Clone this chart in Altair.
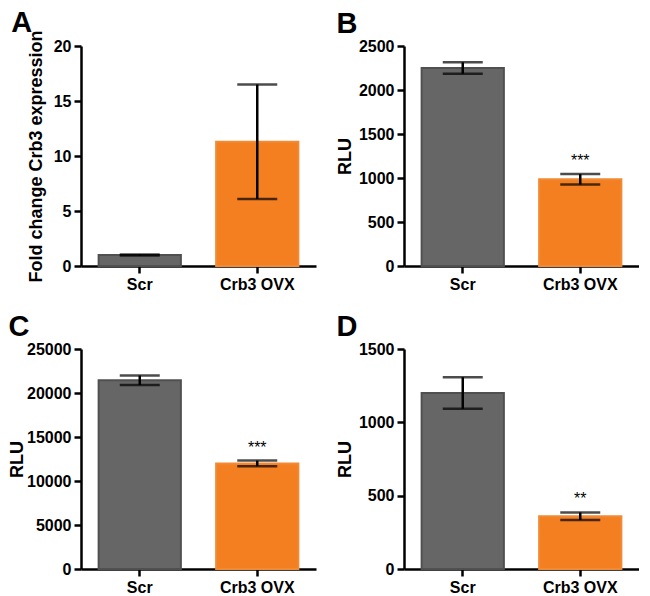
import altair as alt
import pandas as pd

categories = ["Scr", "Crb3 OVX"]

a_mean = [1.0, 11.3]
a_err = [0.05, 5.2]
b_mean = [2250, 985]
b_err = [65, 60]
c_mean = [21450, 12000]
c_err = [540, 320]
d_mean = [1200, 360]
d_err = [108, 26]

a_stars = ["", ""]
b_stars = ["", "***"]
c_stars = ["", "***"]
d_stars = ["", "**"]

a_ticks = [0, 5, 10, 15, 20]
b_ticks = [0, 500, 1000, 1500, 2000, 2500]
c_ticks = [0, 5000, 10000, 15000, 20000, 25000]
d_ticks = [0, 500, 1000, 1500]

FONT = "Liberation Sans"
fills = ["#666666", "#F47F20"]
strokes = ["#505050", "#F08A35"]


def panel(letter, mean, err, stars, ticks, ytitle, title_dx, title_off, title_pad):
    df = pd.DataFrame({
        "group": categories,
        "mean": mean,
        "lo": [m - e for m, e in zip(mean, err)],
        "hi": [m + e for m, e in zip(mean, err)],
        "star": stars,
    })
    x = alt.X("group:N", sort=categories,
              scale=alt.Scale(paddingInner=0.3, paddingOuter=0.15),
              axis=alt.Axis(title=None, labelAngle=0, labelPadding=3))
    yscale = alt.Scale(domain=[ticks[0], ticks[-1]], nice=False)
    yaxis = alt.Axis(values=ticks, title=ytitle, titlePadding=title_pad,
                     labelPadding=3, format="d")
    base = alt.Chart(df)
    bars = base.mark_bar(strokeWidth=2).encode(
        x=x,
        y=alt.Y("mean:Q", scale=yscale, axis=yaxis),
        color=alt.Color("group:N", scale=alt.Scale(domain=categories, range=fills), legend=None),
        stroke=alt.Stroke("group:N", scale=alt.Scale(domain=categories, range=strokes), legend=None),
    )
    rule = base.mark_rule(strokeWidth=2.5, color="black").encode(
        x=x, y=alt.Y("lo:Q"), y2="hi:Q")
    cap_hi = base.mark_tick(thickness=2.5, size=40, color="black").encode(
        x=x, y=alt.Y("hi:Q"))
    cap_lo = base.mark_tick(thickness=2.5, size=40, color="black").encode(
        x=x, y=alt.Y("lo:Q"))
    txt = base.mark_text(dy=-13, fontSize=16, font=FONT, color="black", baseline="middle").encode(
        x=x, y=alt.Y("hi:Q"), text="star:N")
    return alt.layer(bars, rule, cap_hi, cap_lo, txt).properties(
        width=235, height=220,
        title=alt.TitleParams(letter, anchor="start", frame="bounds", fontSize=29,
                              fontWeight="bold", font=FONT, color="black",
                              dx=title_dx, offset=title_off),
    )


pa = panel("A", a_mean, a_err, a_stars, a_ticks, "Fold change Crb3 expression", -16, -8, 8)
pb = panel("B", b_mean, b_err, b_stars, b_ticks, "RLU", 0, -1, 4)
pc = panel("C", c_mean, c_err, c_stars, c_ticks, "RLU", 0, -1, 0)
pd_ = panel("D", d_mean, d_err, d_stars, d_ticks, "RLU", 0, -1, 4)

chart = alt.concat(pa, pb, pc, pd_, columns=2, spacing={"row": 21, "column": 20}).properties(
    padding=0
).configure_view(stroke=None).configure_axis(
    domainColor="black", domainWidth=2.5, tickColor="black", tickWidth=2.5, tickSize=7,
    labelFont=FONT, labelFontSize=16, labelFontWeight="bold", labelColor="black",
    titleFont=FONT, titleFontSize=18, titleFontWeight="bold", titleColor="black",
    grid=False,
)

chart.save("out.html", embed_options={"renderer": "svg", "actions": False})
